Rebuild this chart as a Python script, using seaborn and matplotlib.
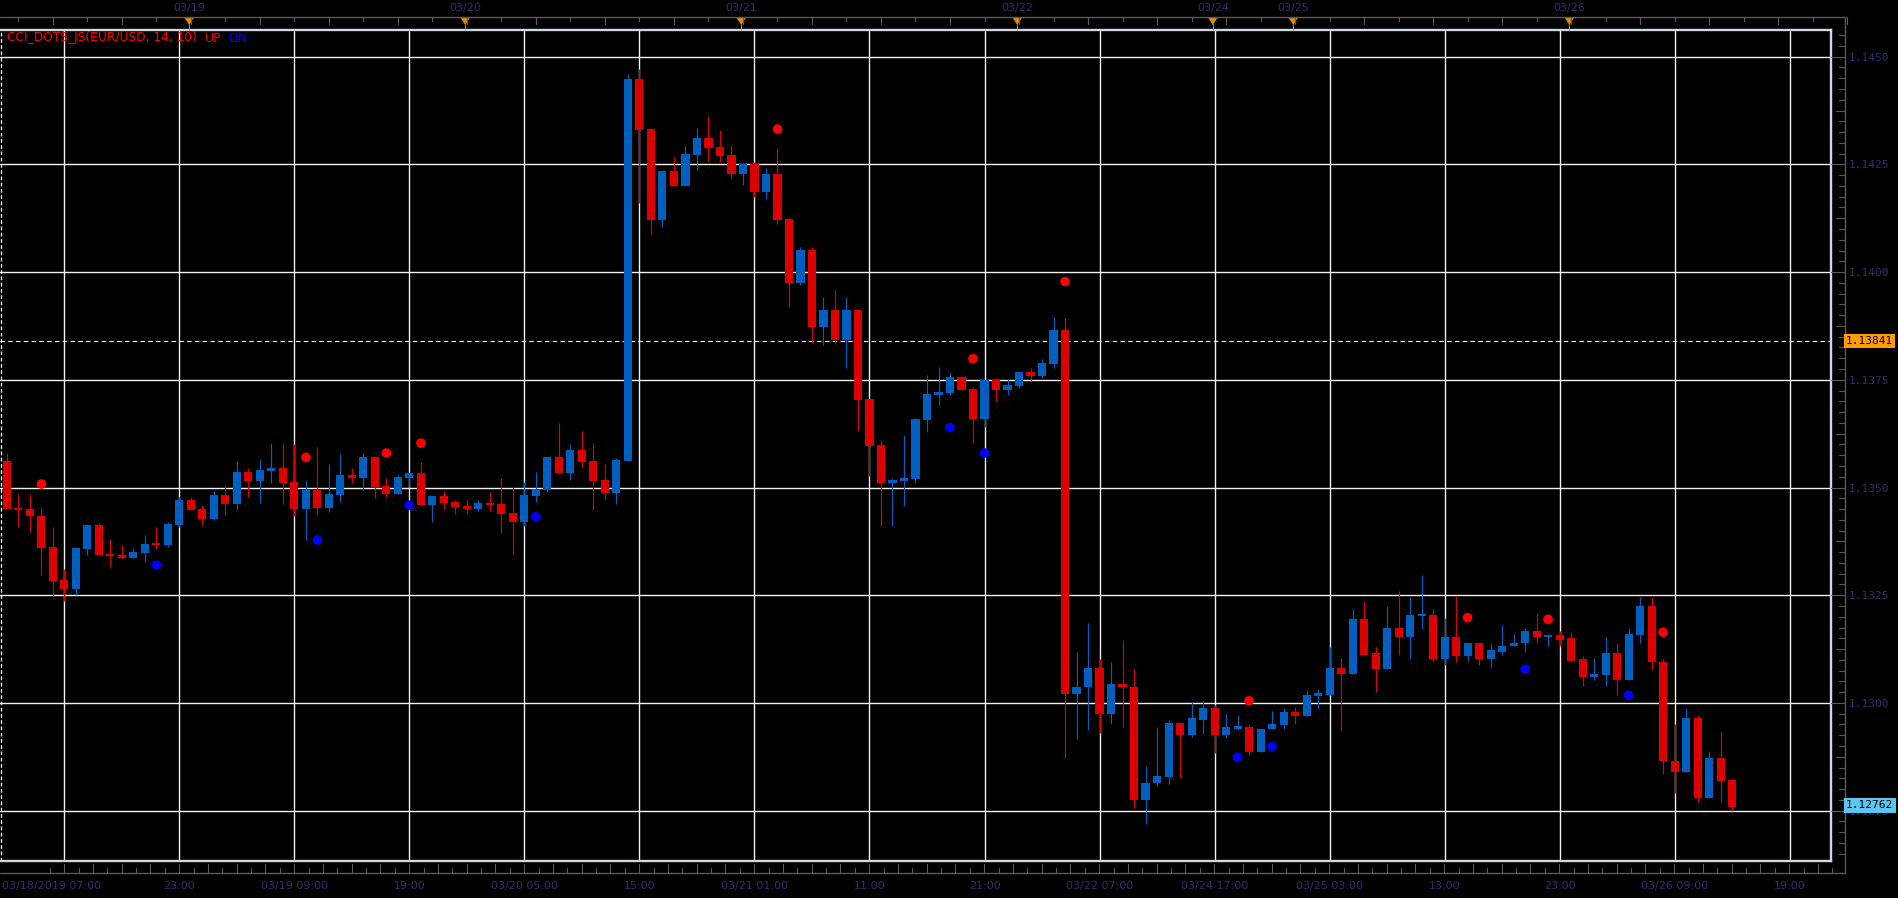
import numpy as np
import pandas as pd
import matplotlib
matplotlib.use("Agg")
import matplotlib.pyplot as plt
import matplotlib.transforms as mtransforms
from matplotlib.lines import Line2D
from matplotlib.patches import Polygon
import seaborn as sns

sns.set_theme(style="dark", rc={"axes.facecolor": "black", "figure.facecolor": "black"})
plt.rcParams["font.family"] = ["DejaVu Sans"]

# ---------------- data (EUR/USD hourly candles) ----------------
opens = [1.13561, 1.13452, 1.13450, 1.13435, 1.13362, 1.13285, 1.13265, 1.13357, 1.13413, 1.13345,
         1.13343, 1.13336, 1.13348, 1.13370, 1.13367, 1.13413, 1.13471, 1.13450, 1.13427, 1.13482,
         1.13461, 1.13535, 1.13515, 1.13538, 1.13545, 1.13512, 1.13450, 1.13494, 1.13452, 1.13482,
         1.13529, 1.13522, 1.13570, 1.13503, 1.13485, 1.13522, 1.13533, 1.13459, 1.13480, 1.13466,
         1.13457, 1.13450, 1.13464, 1.13461, 1.13440, 1.13420, 1.13480, 1.13494, 1.13570, 1.13533,
         1.13587, 1.13561, 1.13517, 1.13487, 1.13561, 1.14448, 1.14332, 1.14121, 1.14235, 1.14200,
         1.14272, 1.14311, 1.14290, 1.14272, 1.14228, 1.14251, 1.14186, 1.14228, 1.14123, 1.13974,
         1.14051, 1.13872, 1.13912, 1.13842, 1.13912, 1.13705, 1.13598, 1.13510, 1.13515, 1.13519,
         1.13656, 1.13714, 1.13719, 1.13756, 1.13728, 1.13659, 1.13749, 1.13726, 1.13735, 1.13768,
         1.13759, 1.13786, 1.13865, 1.13020, 1.13036, 1.13080, 1.12975, 1.13045, 1.13038, 1.12774,
         1.12813, 1.12829, 1.12954, 1.12925, 1.12961, 1.12987, 1.12925, 1.12941, 1.12945, 1.12885,
         1.12939, 1.12948, 1.12980, 1.12969, 1.13017, 1.13019, 1.13080, 1.13068, 1.13194, 1.13115,
         1.13078, 1.13175, 1.13152, 1.13203, 1.13205, 1.13103, 1.13154, 1.13108, 1.13138, 1.13101,
         1.13119, 1.13131, 1.13138, 1.13166, 1.13152, 1.13157, 1.13150, 1.13101, 1.13059, 1.13064,
         1.13115, 1.13054, 1.13157, 1.13224, 1.13096, 1.12866, 1.12840, 1.12964, 1.12780, 1.12873,
         1.12822]
highs = [1.13579, 1.13485, 1.13485, 1.13454, 1.13408, 1.13311, 1.13360, 1.13413, 1.13417, 1.13380,
         1.13367, 1.13360, 1.13390, 1.13408, 1.13420, 1.13478, 1.13478, 1.13459, 1.13492, 1.13505,
         1.13561, 1.13545, 1.13566, 1.13603, 1.13603, 1.13600, 1.13517, 1.13593, 1.13554, 1.13577,
         1.13545, 1.13579, 1.13570, 1.13522, 1.13529, 1.13533, 1.13559, 1.13480, 1.13491, 1.13471,
         1.13471, 1.13471, 1.13489, 1.13522, 1.13501, 1.13512, 1.13536, 1.13570, 1.13649, 1.13601,
         1.13631, 1.13603, 1.13554, 1.13568, 1.14460, 1.14471, 1.14332, 1.14235, 1.14267, 1.14293,
         1.14334, 1.14362, 1.14330, 1.14295, 1.14253, 1.14255, 1.14241, 1.14286, 1.14125, 1.14058,
         1.14058, 1.13942, 1.13958, 1.13942, 1.13912, 1.13705, 1.13610, 1.13521, 1.13622, 1.13661,
         1.13761, 1.13779, 1.13765, 1.13759, 1.13733, 1.13749, 1.13754, 1.13752, 1.13768, 1.13777,
         1.13798, 1.13896, 1.13893, 1.13117, 1.13185, 1.13103, 1.13096, 1.13145, 1.13078, 1.12854,
         1.12945, 1.12961, 1.12954, 1.13001, 1.13005, 1.12996, 1.12975, 1.12971, 1.12952, 1.12940,
         1.12982, 1.12989, 1.12991, 1.13029, 1.13033, 1.13129, 1.13105, 1.13217, 1.13236, 1.13129,
         1.13226, 1.13259, 1.13245, 1.13298, 1.13219, 1.13196, 1.13247, 1.13138, 1.13138, 1.13138,
         1.13180, 1.13159, 1.13173, 1.13208, 1.13159, 1.13166, 1.13164, 1.13108, 1.13105, 1.13154,
         1.13140, 1.13175, 1.13245, 1.13245, 1.13103, 1.12950, 1.12987, 1.12971, 1.12889, 1.12933,
         1.12824]
lows = [1.13450, 1.13408, 1.13397, 1.13297, 1.13249, 1.13237, 1.13251, 1.13343, 1.13343, 1.13316,
        1.13337, 1.13336, 1.13327, 1.13357, 1.13362, 1.13408, 1.13448, 1.13413, 1.13424, 1.13436,
        1.13448, 1.13478, 1.13464, 1.13510, 1.13461, 1.13434, 1.13378, 1.13436, 1.13443, 1.13466,
        1.13510, 1.13494, 1.13475, 1.13478, 1.13485, 1.13501, 1.13459, 1.13420, 1.13450, 1.13438,
        1.13438, 1.13445, 1.13445, 1.13394, 1.13346, 1.13410, 1.13466, 1.13489, 1.13531, 1.13517,
        1.13547, 1.13447, 1.13471, 1.13461, 1.13561, 1.14161, 1.14089, 1.14105, 1.14200, 1.14200,
        1.14237, 1.14258, 1.14255, 1.14216, 1.14202, 1.14174, 1.14170, 1.14111, 1.13919, 1.13970,
        1.13835, 1.13830, 1.13833, 1.13777, 1.13633, 1.13526, 1.13410, 1.13410, 1.13457, 1.13510,
        1.13628, 1.13691, 1.13714, 1.13726, 1.13603, 1.13640, 1.13700, 1.13714, 1.13731, 1.13745,
        1.13754, 1.13777, 1.12871, 1.12916, 1.12936, 1.12929, 1.12950, 1.12943, 1.12755, 1.12720,
        1.12806, 1.12811, 1.12825, 1.12920, 1.12927, 1.12883, 1.12918, 1.12936, 1.12878, 1.12885,
        1.12939, 1.12939, 1.12950, 1.12969, 1.12987, 1.13019, 1.12936, 1.13066, 1.13112, 1.13026,
        1.13078, 1.13112, 1.13103, 1.13171, 1.13096, 1.13089, 1.13096, 1.13098, 1.13089, 1.13082,
        1.13112, 1.13131, 1.13117, 1.13138, 1.13131, 1.13133, 1.13098, 1.13040, 1.13054, 1.13040,
        1.13019, 1.13054, 1.13138, 1.13078, 1.12836, 1.12791, 1.12840, 1.12771, 1.12780, 1.12771,
        1.12750]
closes = [1.13450, 1.13448, 1.13434, 1.13360, 1.13283, 1.13265, 1.13360, 1.13413, 1.13343, 1.13341,
          1.13337, 1.13350, 1.13369, 1.13368, 1.13415, 1.13471, 1.13448, 1.13427, 1.13482, 1.13461,
          1.13535, 1.13515, 1.13540, 1.13545, 1.13510, 1.13450, 1.13494, 1.13452, 1.13485, 1.13529,
          1.13522, 1.13570, 1.13501, 1.13485, 1.13524, 1.13533, 1.13459, 1.13480, 1.13464, 1.13454,
          1.13450, 1.13464, 1.13459, 1.13438, 1.13420, 1.13482, 1.13496, 1.13570, 1.13533, 1.13587,
          1.13559, 1.13515, 1.13487, 1.13563, 1.14448, 1.14330, 1.14121, 1.14235, 1.14200, 1.14274,
          1.14311, 1.14288, 1.14269, 1.14228, 1.14251, 1.14186, 1.14228, 1.14121, 1.13974, 1.14051,
          1.13872, 1.13912, 1.13842, 1.13912, 1.13703, 1.13596, 1.13510, 1.13517, 1.13522, 1.13659,
          1.13717, 1.13721, 1.13756, 1.13726, 1.13659, 1.13749, 1.13726, 1.13738, 1.13768, 1.13759,
          1.13789, 1.13865, 1.13020, 1.13038, 1.13080, 1.12975, 1.13045, 1.13036, 1.12774, 1.12815,
          1.12831, 1.12954, 1.12925, 1.12964, 1.12987, 1.12925, 1.12943, 1.12945, 1.12885, 1.12940,
          1.12950, 1.12980, 1.12969, 1.13019, 1.13022, 1.13080, 1.13068, 1.13194, 1.13112, 1.13078,
          1.13175, 1.13152, 1.13205, 1.13207, 1.13103, 1.13154, 1.13108, 1.13138, 1.13101, 1.13122,
          1.13133, 1.13140, 1.13166, 1.13152, 1.13157, 1.13147, 1.13098, 1.13059, 1.13066, 1.13115,
          1.13054, 1.13159, 1.13224, 1.13094, 1.12864, 1.12840, 1.12964, 1.12780, 1.12873, 1.12819,
          1.12759]

# CCI dots (bar index, price)
up_idx = [3, 26, 33, 36, 67, 84, 92, 108, 127, 134, 144]
up_val = [1.13508, 1.13570, 1.13580, 1.13603, 1.14332, 1.13799, 1.13978, 1.13005, 1.13198, 1.13194, 1.13164]
dn_idx = [13, 27, 35, 46, 82, 85, 107, 110, 132, 141]
dn_val = [1.13320, 1.13378, 1.13459, 1.13432, 1.13639, 1.13580, 1.12874, 1.12899, 1.13078, 1.13018]

# time axis labels at vertical grid lines
grid_idx = [5, 15, 25, 35, 45, 55, 65, 75, 85, 95, 105, 115, 125, 135, 145, 155]
grid_labels = ["03/18/2019 07:00", "23:00", "03/19 09:00", "19:00", "03/20 05:00", "15:00",
               "03/21 01:00", "11:00", "21:00", "03/22 07:00", "03/24 17:00", "03/25 03:00",
               "13:00", "23:00", "03/26 09:00", "19:00"]
day_idx = [16, 40, 64, 88, 105, 112, 136]
day_labels = ["03/19", "03/20", "03/21", "03/22", "03/24", "03/25", "03/26"]
price_ticks = [1.1275, 1.1300, 1.1325, 1.1350, 1.1375, 1.1400, 1.1425, 1.1450]
price_labels = ["1.1275", "1.1300", "1.1325", "1.1350", "1.1375", "1.1400", "1.1425", "1.1450"]
hline_level = 1.13841
last_price = 1.12762
indicator_name = "CCI_DOTS_JS(EUR/USD, 14, 10)"

# ---------------- style ----------------
RED = "#DC0000"
BLUE = "#005FBF"
DOT_RED = "#FF0000"
DOT_BLUE = "#0000FF"
GRID = "#F2F2F2"
BORDER = "#D2D6DE"
FRAME = "#5A5A5A"
LABEL = "#2C3270"
ORANGE = "#E08A0B"

W, H = 1899, 898
fig = plt.figure(figsize=(W / 100, H / 100), dpi=100)
fig.patch.set_facecolor("black")
ax = fig.add_axes([0, (H - 861) / H, 1831 / W, (861 - 30) / H])
ax.set_facecolor("black")

df = pd.DataFrame({"i": np.arange(len(opens)), "o": opens, "h": highs, "l": lows, "c": closes})
bull = df["c"] >= df["o"]
cols = np.where(bull, BLUE, RED)

ax.vlines(df["i"], df["l"], df["h"], colors=cols, linewidth=0.85, zorder=3)
bot = np.minimum(df["o"], df["c"]).to_numpy()
hgt = np.abs(df["c"] - df["o"]).to_numpy()
minh = 0.00005
adj = hgt < minh
bot = np.where(adj, bot - (minh - hgt) / 2, bot)
hgt = np.where(adj, minh, hgt)
ax.bar(df["i"], hgt, bottom=bot, width=0.7, color=cols, linewidth=0, zorder=4)

sns.scatterplot(x=up_idx, y=up_val, color=DOT_RED, s=48, edgecolor="none", ax=ax, zorder=5, legend=False)
sns.scatterplot(x=dn_idx, y=dn_val, color=DOT_BLUE, s=48, edgecolor="none", ax=ax, zorder=5, legend=False)

ax.set_xlim(-0.6, 158.6)
ax.set_ylim(1.12633, 1.14562)

ax.set_xticks(grid_idx)
ax.set_xticklabels(grid_labels)
ax.set_yticks(price_ticks)
ax.set_yticklabels(price_labels)
ax.yaxis.tick_right()
ax.grid(True, color=GRID, linewidth=1.0, zorder=1)
ax.set_axisbelow(True)
ax.tick_params(axis="x", length=0, pad=14.2, labelsize=8, labelcolor=LABEL)
ax.tick_params(axis="y", length=0, pad=12.5, labelsize=8, labelcolor=LABEL)
for lb in ax.get_yticklabels():
    lb.set_family("DejaVu Sans Mono")
first = ax.get_xticklabels()[0]
first.set_transform(first.get_transform() + mtransforms.ScaledTranslation(-0.13, 0, fig.dpi_scale_trans))

for side in ["top", "right", "bottom"]:
    ax.spines[side].set_color(BORDER)
    ax.spines[side].set_linewidth(1.7)
ax.spines["left"].set_visible(False)
ax.axvline(-0.52, color="white", linestyle=(0, (3, 2)), linewidth=0.9, zorder=2)
ax.axhline(hline_level, color="white", linestyle=(0, (4, 3)), linewidth=0.8, zorder=2)

# helpers: data -> figure fraction
to_fig = fig.transFigure.inverted()
def dpt(x, y):
    return to_fig.transform(ax.transData.transform((x, y)))

fx = lambda px: px / W
fy = lambda py: 1 - py / H

# outer frame (top time scale, right price scale, bottom time scale)
fig.add_artist(Line2D([fx(0), fx(1845)], [fy(17), fy(17)], color=FRAME, lw=1.0))
fig.add_artist(Line2D([fx(0), fx(1845)], [fy(873), fy(873)], color=FRAME, lw=1.0))
fig.add_artist(Line2D([fx(1845), fx(1845)], [fy(17), fy(873)], color=FRAME, lw=1.0))

# right minor ticks
ymin, ymax = ax.get_ylim()
k = 0
p = 1.1250
while p < 1.1470:
    if ymin < p < ymax:
        _, yf = dpt(0, p)
        is_major = abs(round(p / 0.0025) * 0.0025 - p) < 1e-7
        x0 = fx(1831) if is_major else (fx(1836) if k % 5 == 0 else fx(1839))
        fig.add_artist(Line2D([x0, fx(1844)], [yf, yf], color=FRAME, lw=0.8))
    k += 1
    p += 0.00025

# bottom ticks
for j in range(-1, 125):
    xp = 64.2 + j * 14.375
    if 0 <= xp <= 1840:
        yt = 864 if j % 2 == 0 else 868
        fig.add_artist(Line2D([fx(xp), fx(xp)], [fy(873), fy(yt)], color=FRAME, lw=0.8))
# top ticks
for j in range(0, 54):
    xf, _ = dpt(1 + 3 * j, ymax)
    yt = 24 if j % 2 == 1 else 21
    fig.add_artist(Line2D([xf, xf], [fy(17), fy(yt)], color=FRAME, lw=0.8))

# day markers on top scale
for di, dl in zip(day_idx, day_labels):
    xf, _ = dpt(di - 0.15, ymax)
    xpix = xf * W
    fig.add_artist(Line2D([xf, xf], [fy(24), fy(30)], color="#9A9A9A", lw=0.7))
    fig.add_artist(Polygon([[fx(xpix - 4.5), fy(18)], [fx(xpix + 4.5), fy(18)], [fx(xpix), fy(25)]],
                           closed=True, facecolor=ORANGE, edgecolor="none", transform=fig.transFigure))
    fig.text(xf, fy(8), dl, color=LABEL, fontsize=8, ha="center", va="center")

# price boxes on right scale
_, yl = dpt(0, hline_level)
fig.text(fx(1846), yl, f"{hline_level:.5f}", family="DejaVu Sans Mono", fontsize=8, color="black",
         ha="left", va="center", zorder=10,
         bbox=dict(boxstyle="square,pad=0.18", facecolor="#FF9C00", edgecolor="none"))
_, yl = dpt(0, last_price)
fig.text(fx(1846), yl, f"{last_price:.5f}", family="DejaVu Sans Mono", fontsize=8, color="black",
         ha="left", va="center", zorder=10,
         bbox=dict(boxstyle="square,pad=0.22", facecolor="#5CC6F2", edgecolor="none"))

# indicator legend text
fig.text(fx(7.5), fy(38), indicator_name, color=DOT_RED, fontsize=8.8, ha="left", va="center")
fig.text(fx(205), fy(38), "UP", color=DOT_RED, fontsize=8.8, ha="left", va="center")
fig.text(fx(229), fy(38), "DN", color=DOT_BLUE, fontsize=8.8, ha="left", va="center")

fig.savefig("out.png", dpi=100, facecolor="black")
